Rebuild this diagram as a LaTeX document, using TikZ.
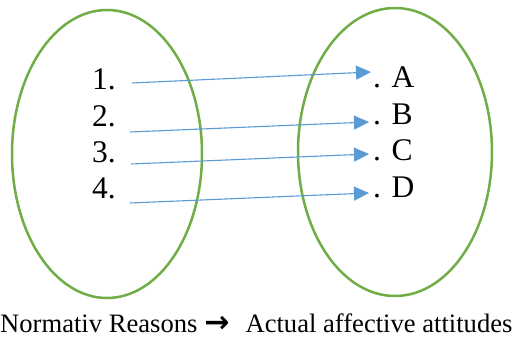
\documentclass[tikz,border=0pt]{standalone}
\usepackage{fontspec}
\setmainfont{Liberation Serif}
\newfontfamily\arrowfont{DejaVu Sans}
\usetikzlibrary{arrows.meta}
\definecolor{egreen}{HTML}{70AD47}
\definecolor{ablue}{HTML}{5B9BD5}
\begin{document}
\begin{tikzpicture}[x=1pt,y=-1pt,
  setoval/.style={draw=egreen,line width=2.5pt},
  link/.style={draw=ablue,line width=1.1pt,-{Triangle[length=15pt,width=14pt]}},
  lbl/.style={inner sep=0pt,anchor=base west,font=\fontsize{31.5}{36}\selectfont},
  captiontext/.style={inner sep=0pt,anchor=base west,font=\fontsize{26.6}{32}\selectfont}]
\useasboundingbox (0,0) rectangle (512,339);
\draw[setoval] (107,154) ellipse [x radius=95pt, y radius=144pt];
\draw[setoval] (395,152) ellipse [x radius=97pt, y radius=144pt];
\node[lbl] (n1) at (92,90) {1.};
\node[lbl] (n2) at (92,127) {2.};
\node[lbl] (n3) at (92,163) {3.};
\node[lbl] (n4) at (92,199) {4.};
\node[lbl] (la) at (373,88) {. A};
\node[lbl] (lb) at (373,125) {. B};
\node[lbl] (lc) at (373,161) {. C};
\node[lbl] (ld) at (373,198) {. D};
\coordinate (s1) at (132,83);
\coordinate (e1) at (371,72);
\coordinate (s2) at (130,132);
\coordinate (e2) at (369,122);
\coordinate (s3) at (131,164);
\coordinate (e3) at (369,154);
\coordinate (s4) at (130,203);
\coordinate (e4) at (369,193);
\draw[link] (s1) -- (e1);
\draw[link] (s2) -- (e2);
\draw[link] (s3) -- (e3);
\draw[link] (s4) -- (e4);
\node[captiontext] (captionline) at (0,333) {Normativ Reasons\hspace{7pt}{\arrowfont\bfseries\fontsize{30}{32}\selectfont →}\hspace{16pt}Actual affective attitudes};
\end{tikzpicture}
\end{document}
